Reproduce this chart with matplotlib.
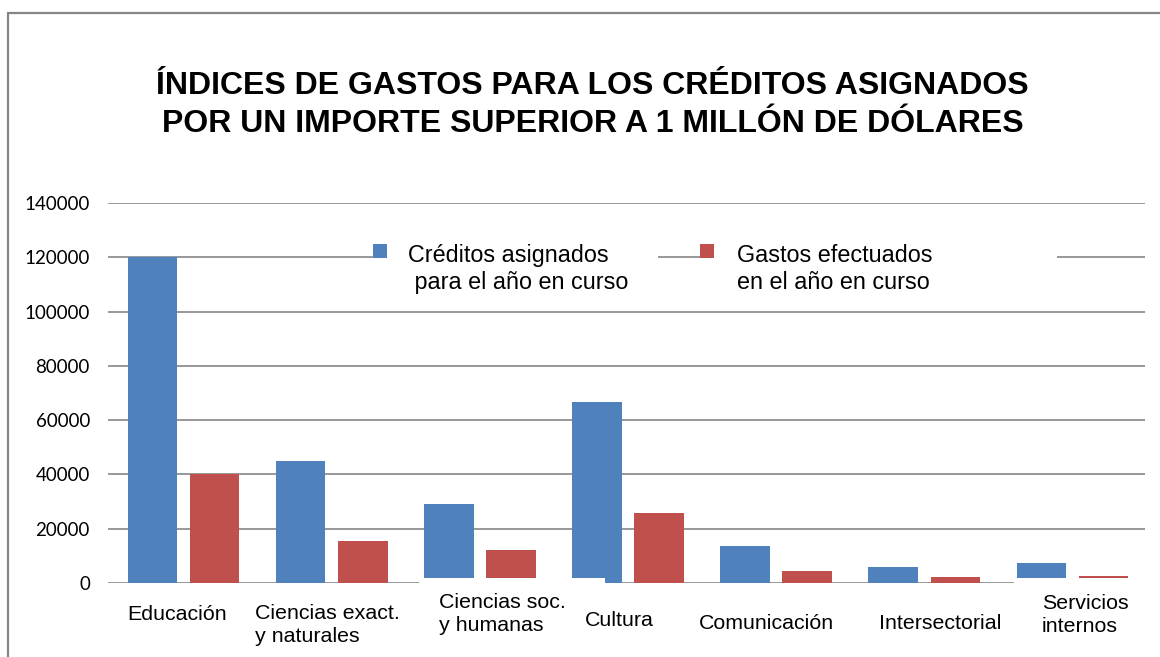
import numpy as np
import matplotlib
matplotlib.use("Agg")
import matplotlib.pyplot as plt
from matplotlib.patches import Rectangle

categories = [
    "Educación",
    "Ciencias exact.\ny naturales",
    "Ciencias soc.\ny humanas",
    "Cultura",
    "Comunicación",
    "Intersectorial",
    "Servicios\ninternos",
]
creditos = [120000, 44800, 29000, 66600, 13500, 5800, 7300]
gastos = [40000, 15600, 12300, 25800, 4400, 2100, 2700]
y_ticks = [0, 20000, 40000, 60000, 80000, 100000, 120000, 140000]
series_names = ["Créditos asignados\n para el año en curso", "Gastos efectuados\nen el año en curso"]
title = ("ÍNDICES DE GASTOS PARA LOS CRÉDITOS ASIGNADOS\n"
         "POR UN IMPORTE SUPERIOR A 1 MILLÓN DE DÓLARES")

BLUE = "#4F81BD"
RED = "#C0504D"
GRID = "#868686"

# where each category label sits under its group: (dx px, dy px, alignment)
label_place = [(-5, -31, "center"), (-75, -42, "left"), (-39, -31, "left"),
               (-7, -37, "center"), (-8, -40, "center"), (17, -40, "center"),
               (-29, -32, "left")]


def create_chart():
    plt.rcParams["font.family"] = ["Liberation Sans", "DejaVu Sans"]

    fig = plt.figure(figsize=(11.6, 6.57), dpi=100)
    ax = fig.add_axes([0.0931, 0.1126, 0.894, 0.5784])

    x = np.arange(len(categories))
    width = 0.335
    ax.bar(x - 0.20, creditos, width, color=BLUE, zorder=2)
    ax.bar(x + 0.22, gastos, width, color=RED, zorder=2)

    ax.set_xlim(-0.5, len(categories) - 0.5)
    ax.set_ylim(0, 140000)
    ax.set_yticks(y_ticks)
    ax.set_yticklabels([str(v) for v in y_ticks], fontfamily="Lato", fontsize=13.5)
    ax.tick_params(axis="y", length=0, pad=13)
    ax.tick_params(axis="x", bottom=False, labelbottom=False)
    ax.yaxis.grid(True, color=GRID, linewidth=1.2, zorder=1)
    ax.set_axisbelow(True)
    for s in ax.spines.values():
        s.set_visible(False)

    # white label boxes that overlap the foot of some bars
    for x0, x1 in [(0.300, 0.479), (0.8737, 1.2)]:
        ax.add_patch(Rectangle((x0, -0.25), x1 - x0, 0.263, transform=ax.transAxes,
                               facecolor="white", edgecolor="none", clip_on=False, zorder=3))

    for i, (name, (dx, dy, ha)) in enumerate(zip(categories, label_place)):
        ax.annotate(name, xy=(i, 0), xycoords=("data", "axes fraction"),
                    xytext=(dx, dy), textcoords="offset pixels",
                    ha=ha, va="center", multialignment="left",
                    fontsize=15.4, linespacing=1.32, zorder=4, annotation_clip=False)

    # legend entries, each on its own white patch over the grid
    entries = [(BLUE, 0.2555, 0.289, 0.530), (RED, 0.571, 0.607, 0.915)]
    for (color, mx, tx, bx1), name in zip(entries, series_names):
        ax.add_patch(Rectangle((mx, 0.76), bx1 - mx, 0.14, transform=ax.transAxes,
                               facecolor="white", edgecolor="none", zorder=3))
        ax.add_patch(Rectangle((mx, 0.855), 0.0135, 0.037, transform=ax.transAxes,
                               facecolor=color, edgecolor="none", zorder=4))
        ax.text(tx, 0.891, name, transform=ax.transAxes, ha="left", va="top",
                fontsize=16.8, linespacing=1.2, zorder=4)

    fig.text(0.511, 0.840, title, ha="center", va="center",
             fontsize=23, fontweight="bold", linespacing=1.34)

    # chart border, only the top and left edges fall inside the image
    fig.add_artist(Rectangle((0.0065, -0.1), 1.2, 1.0807, transform=fig.transFigure,
                             fill=False, edgecolor=GRID, linewidth=1.6, clip_on=False))

    fig.savefig("out.png", dpi=100)


def main():
    create_chart()


if __name__ == "__main__":
    main()
